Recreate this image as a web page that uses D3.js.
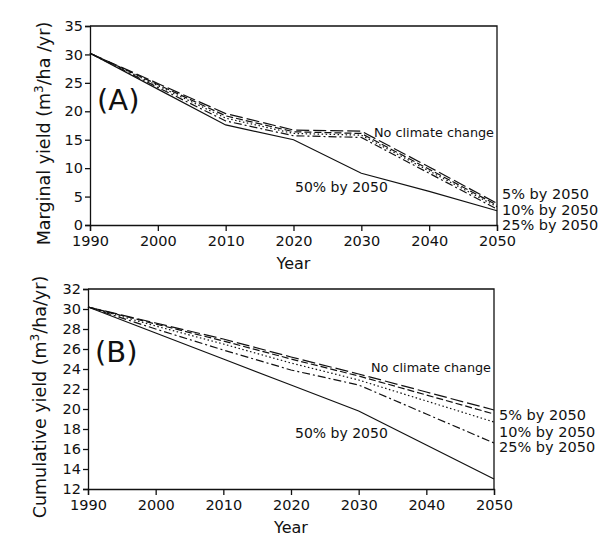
<!DOCTYPE html>
<html>
<head>
<meta charset="utf-8">
<script src="https://cdn.jsdelivr.net/npm/d3@7"></script>
<style>
  body { margin: 0; background: #fff; }
  svg { display: block; }
  text { font-family: "DejaVu Sans", sans-serif; fill: #111; }
</style>
</head>
<body>
<script>
// years shared by both panels
const years = [1990, 2000, 2010, 2020, 2030, 2040, 2050];
const scenarios = ["No climate change", "5% by 2050", "10% by 2050", "25% by 2050", "50% by 2050"];

// panel A - marginal yield (m3/ha/yr)
const marginalNoChange = [30.2, 24.9, 19.6, 16.7, 16.5, 10.2, 3.8];
const marginal5 = [30.2, 24.7, 19.2, 16.4, 16.1, 9.8, 3.5];
const marginal10 = [30.2, 24.5, 18.8, 16.1, 15.8, 9.5, 3.2];
const marginal25 = [30.2, 24.2, 18.3, 15.7, 15.4, 9.1, 2.8];
const marginal50 = [30.2, 23.9, 17.6, 15.0, 9.1, 5.9, 2.5];
const marginalTicks = [0, 5, 10, 15, 20, 25, 30, 35];

// panel B - cumulative yield (m3/ha/yr)
const cumulativeNoChange = [30.2, 28.6, 27.0, 25.2, 23.5, 21.7, 19.9];
const cumulative5 = [30.2, 28.5, 26.8, 25.0, 23.3, 21.4, 19.5];
const cumulative10 = [30.2, 28.3, 26.5, 24.6, 22.9, 20.8, 18.7];
const cumulative25 = [30.2, 28.0, 25.9, 23.9, 22.4, 19.5, 16.6];
const cumulative50 = [30.2, 27.6, 25.0, 22.4, 19.8, 16.4, 13.0];
const cumulativeTicks = [12, 14, 16, 18, 20, 22, 24, 26, 28, 30, 32];

// line style per scenario (same order as scenarios)
const dashes = ["13,4", "7,3", "1.5,2.5", "8,3,2,3", null];

const W = 615, H = 546;

const svg = d3.select("body").append("svg")
    .attr("width", W)
    .attr("height", H);

function drawPanel(p) {
    let x = d3.scaleLinear().domain([1990, 2050]).range([p.left, p.right]);
    let y = d3.scaleLinear().domain(p.yDomain).range([p.bottom, p.top]);

    let g = svg.append("g");

    // frame (top + right)
    g.append("path")
        .attr("d", "M" + p.left + "," + p.top + "H" + p.right + "V" + p.bottom)
        .attr("fill", "none")
        .attr("stroke", "#111")
        .attr("stroke-width", 1.3);

    // axes
    let xAxis = d3.axisBottom(x).tickValues(years).tickFormat(d3.format("d"))
        .tickSize(6).tickPadding(5);
    let yAxis = d3.axisLeft(y).tickValues(p.yTicks).tickSize(5).tickPadding(2);

    g.append("g")
        .attr("transform", "translate(0," + p.bottom + ")")
        .call(xAxis)
        .call(a => a.selectAll("text").style("font-size", "14.5px").attr("fill", "#111"))
        .call(a => a.selectAll("line,path").attr("stroke", "#111").attr("stroke-width", 1.3));

    g.append("g")
        .attr("transform", "translate(" + p.left + ",0)")
        .call(yAxis)
        .call(a => a.selectAll("text").style("font-size", "14.5px").attr("fill", "#111"))
        .call(a => a.selectAll("line,path").attr("stroke", "#111").attr("stroke-width", 1.3));

    // series lines
    let line = d3.line()
        .x((d, i) => x(years[i]))
        .y(d => y(d));

    g.selectAll("path.series")
        .data(p.series)
        .enter()
        .append("path")
        .attr("class", "series")
        .attr("d", line)
        .attr("fill", "none")
        .attr("stroke", "#111")
        .attr("stroke-width", 1.2)
        .attr("stroke-dasharray", (d, i) => dashes[i]);

    // panel letter
    g.append("text")
        .attr("x", p.letterX)
        .attr("y", p.letterY)
        .style("font-size", "29px")
        .text(p.letter);

    // axis titles
    g.append("text")
        .attr("x", (p.left + p.right) / 2)
        .attr("y", p.bottom + 44)
        .attr("text-anchor", "middle")
        .style("font-size", "16px")
        .text("Year");

    let yl = g.append("text")
        .attr("transform", "translate(" + p.yLabelX + "," + ((p.top + p.bottom) / 2 + 8) + ") rotate(-90)")
        .attr("text-anchor", "middle")
        .style("font-size", "17.5px");
    yl.append("tspan").text(p.yLabel + " (m");
    yl.append("tspan").attr("dy", -7).style("font-size", "12px").text("3");
    yl.append("tspan").attr("dy", 7).text(p.yUnit);

    // scenario labels
    g.append("text")
        .attr("x", p.right - 3)
        .attr("y", p.noChangeY)
        .attr("text-anchor", "end")
        .style("font-size", "12.8px")
        .text(scenarios[0]);

    g.append("text")
        .attr("x", 295)
        .attr("y", p.fiftyY)
        .style("font-size", "14px")
        .text(scenarios[4]);

    p.rightLabelY.forEach((ly, i) => {
        g.append("text")
            .attr("x", p.right + 5)
            .attr("y", ly)
            .style("font-size", "14.5px")
            .text(scenarios[i + 1]);
    });
}

drawPanel({
    left: 90, right: 497, top: 26, bottom: 225,
    yDomain: [0, 35], yTicks: marginalTicks,
    series: [marginalNoChange, marginal5, marginal10, marginal25, marginal50],
    letter: "(A)", letterX: 97, letterY: 110,
    yLabel: "Marginal yield", yUnit: "/ha /yr)", yLabelX: 50,
    noChangeY: 137, fiftyY: 192,
    rightLabelY: [199, 215, 230]
});

drawPanel({
    left: 88, right: 494, top: 289, bottom: 489,
    yDomain: [12, 32], yTicks: cumulativeTicks,
    series: [cumulativeNoChange, cumulative5, cumulative10, cumulative25, cumulative50],
    letter: "(B)", letterX: 95, letterY: 362,
    yLabel: "Cumulative yield", yUnit: "/ha/yr)", yLabelX: 46,
    noChangeY: 372, fiftyY: 438,
    rightLabelY: [420, 437, 452]
});
</script>
</body>
</html>
